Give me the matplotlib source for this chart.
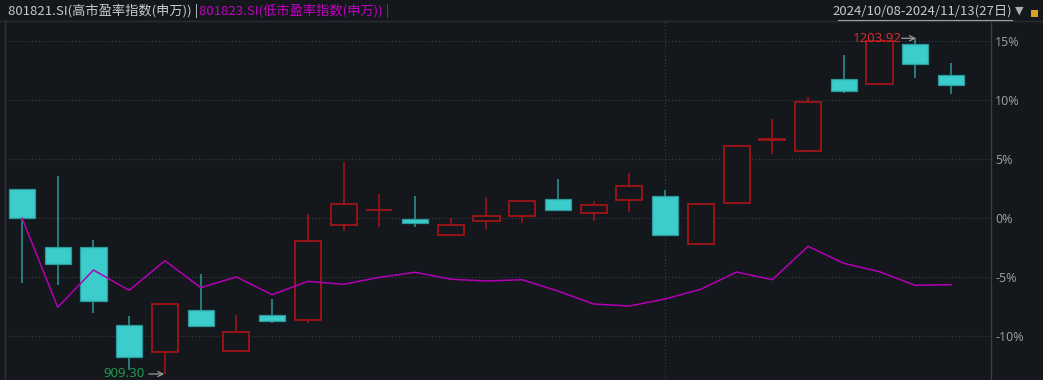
import matplotlib
matplotlib.use("Agg")
import matplotlib.pyplot as plt
import numpy as np

plt.rcParams['font.family'] = ['Noto Sans CJK SC', 'DejaVu Sans']

# ---------------- data (percent change vs. first close) ----------------
dates = ['10/08', '10/09', '10/10', '10/11', '10/14', '10/15', '10/16', '10/17', '10/18',
         '10/21', '10/22', '10/23', '10/24', '10/25', '10/28', '10/29', '10/30', '10/31',
         '11/01', '11/04', '11/05', '11/06', '11/07', '11/08', '11/11', '11/12', '11/13']
open_ = [2.43, -2.43, -2.48, -9.07, -11.36, -7.82, -11.30, -8.25, -8.64, -0.62, 0.65, -0.08,
         -1.41, -0.23, 0.19, 1.61, 0.40, 1.50, 1.84, -2.18, 1.27, 6.62, 5.70, 11.81, 11.38,
         14.77, 12.09]
close = [0.00, -3.87, -7.01, -11.78, -7.31, -9.18, -9.64, -8.70, -1.95, 1.19, 0.72, -0.42,
         -0.56, 0.14, 1.41, 0.70, 1.07, 2.69, -1.47, 1.19, 6.08, 6.66, 9.81, 10.79, 15.00,
         13.05, 11.30]
high = [2.43, 3.56, -1.86, -8.31, -7.31, -4.75, -8.19, -6.89, 0.34, 4.75, 2.03, 1.86, 0.00,
        1.81, 1.41, 3.31, 1.47, 3.81, 2.37, 1.19, 6.08, 8.42, 10.23, 13.81, 15.00, 15.23, 13.16]
low = [-5.53, -5.65, -8.08, -12.88, -13.22, -9.18, -11.30, -8.87, -8.92, -1.13, -0.79, -0.79,
       -1.41, -0.93, -0.40, 0.62, -0.23, 0.53, -1.53, -2.18, 1.27, 5.45, 5.62, 10.62, 11.38,
       11.84, 10.53]
low_pe = [0.00, -7.57, -4.41, -6.13, -3.62, -5.90, -5.00, -6.50, -5.37, -5.62, -5.03, -4.60,
          -5.19, -5.34, -5.23, -6.19, -7.29, -7.46, -6.86, -6.04, -4.58, -5.23, -2.40, -3.84,
          -4.55, -5.71, -5.65]
y_ticks = [15, 10, 5, 0, -5, -10]
y_tick_labels = ['15%', '10%', '5%', '0%', '-5%', '-10%']
title_high = '801821.SI(高市盈率指数(申万)) |'
title_low = '801823.SI(低市盈率指数(申万)) |'
range_text = '2024/10/08-2024/11/13(27日)'
min_label = '909.30'
max_label = '1203.92'

# ---------------- style ----------------
BG = '#14171c'
CYAN = '#3ccccc'
CYAN_EDGE = '#2a9a9a'
RED = '#a01418'
MAGENTA = '#b400b4'
GRID = '#3a3e44'
TXT = '#c8c8c8'

W, H = 1043, 380
fig = plt.figure(figsize=(W / 100, H / 100), dpi=100, facecolor=BG)
# axes area in pixels: left 5, right 991, top 21, bottom 380
ax = fig.add_axes([5 / W, 0, (991 - 5) / W, (380 - 21) / H])
ax.set_facecolor(BG)

x = np.arange(len(dates))
o = np.array(open_); c = np.array(close); hi = np.array(high); lo = np.array(low)
up = c >= o
bw = 0.73

# x: index 0 at px 22, index 26 at px 951
ppx = (951 - 22) / 26.0
ax.set_xlim((5 - 22) / ppx, (991 - 22) / ppx)
# y: 0% at px 218, 11.8 px per 1%
ax.set_ylim((218 - 380) / 11.8, (218 - 21) / 11.8)

# grid
for t in y_ticks:
    ax.axhline(t, color=GRID, lw=0.8, ls=(0, (1, 2)), zorder=0)
ax.axvline(18, color=GRID, lw=0.8, ls=(0, (1, 2)), zorder=0)

body_lo = np.minimum(o, c)
body_hi = np.maximum(o, c)
heights = np.maximum(body_hi - body_lo, 0.06)

# falling candles (filled cyan)
dn = ~up
ax.vlines(x[dn], lo[dn], hi[dn], color=CYAN_EDGE, lw=1.1, zorder=2)
ax.bar(x[dn], heights[dn], bw, bottom=body_lo[dn], color=CYAN, edgecolor=CYAN_EDGE,
       linewidth=0.9, zorder=3)

# rising candles (hollow red)
ax.vlines(x[up], body_hi[up], hi[up], color=RED, lw=1.2, zorder=2)
ax.vlines(x[up], lo[up], body_lo[up], color=RED, lw=1.2, zorder=2)
ax.bar(x[up], heights[up], bw, bottom=body_lo[up], color=BG, edgecolor=RED,
       linewidth=1.3, zorder=3)

# low-PE index line
ax.plot(x, low_pe, color=MAGENTA, lw=1.1, zorder=4)

# min / max markers
i_min = int(np.argmin(lo))
i_max = int(np.argmax(hi))
ax.text(i_min - 0.56, lo[i_min], min_label, color='#1f9a4e', fontsize=9.5,
        family=['Noto Sans', 'DejaVu Sans'], ha='right', va='center', zorder=5)
ax.annotate('', xy=(i_min - 0.02, lo[i_min]), xytext=(i_min - 0.45, lo[i_min]),
            arrowprops=dict(arrowstyle='->', color='#9a9a9a', lw=0.9, mutation_scale=9,
                            shrinkA=0, shrinkB=0), zorder=5)
ax.text(i_max - 0.38, hi[i_max], max_label, color='#d82a2a', fontsize=9.5,
        family=['Noto Sans', 'DejaVu Sans'], ha='right', va='center', zorder=5)
ax.annotate('', xy=(i_max + 0.02, hi[i_max]), xytext=(i_max - 0.38, hi[i_max]),
            arrowprops=dict(arrowstyle='->', color='#9a9a9a', lw=0.9, mutation_scale=9,
                            shrinkA=0, shrinkB=0), zorder=5)

# right axis labels
ax.set_yticks(y_ticks)
ax.yaxis.tick_right()
ax.set_yticklabels(y_tick_labels, color='#9a9a9a', fontsize=9,
                   family=['Noto Sans', 'DejaVu Sans'])
ax.tick_params(axis='y', length=0, pad=3)
ax.set_xticks([])
for s in ['top', 'bottom', 'left']:
    ax.spines[s].set_visible(False)
ax.spines['right'].set_color('#3a3e44')
ax.spines['right'].set_linewidth(1.0)

# left border line
fig.add_artist(plt.Line2D([4.5 / W, 4.5 / W], [0, (380 - 21) / H], color='#2e3238', lw=1.0))
# header separator
fig.add_artist(plt.Line2D([0, 1], [1 - 21 / H, 1 - 21 / H], color='#2a2d33', lw=1.0))

# header
fig.text(8 / W, 1 - 11 / H, title_high, color=TXT, fontsize=9.5, va='center', ha='left')
fig.text(199 / W, 1 - 11 / H, title_low, color='#c400c4', fontsize=9.5, va='center', ha='left')
fig.text(1012 / W, 1 - 11 / H, range_text, color=TXT, fontsize=9.5, va='center', ha='right')
fig.add_artist(plt.Line2D([838 / W, 1012 / W], [1 - 20 / H, 1 - 20 / H], color='#a0a0a0', lw=0.8))
fig.text(1019 / W, 1 - 11 / H, '▼', color='#b0b0b0', fontsize=8,
         family=['DejaVu Sans'], va='center', ha='center')
fig.patches.append(plt.Rectangle((1031 / W, 1 - 17 / H), 7 / W, 7 / H, transform=fig.transFigure,
                                 facecolor='#d8a020', edgecolor='none'))

fig.savefig('out.png', dpi=100, facecolor=BG)
